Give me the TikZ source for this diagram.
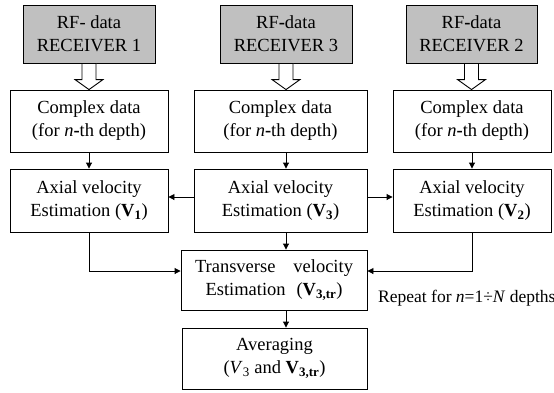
\documentclass[tikz,border=0pt]{standalone}
\usepackage{fontspec}
\setmainfont{Liberation Serif}
\usetikzlibrary{arrows.meta,calc}
\definecolor{boxgray}{RGB}{192,192,192}
\begin{document}
\begin{tikzpicture}[x=1pt,y=-1pt,
  every node/.style={font=\fontsize{18.5}{23}\selectfont},
  box/.style={draw, line width=0.9pt, inner sep=0pt, align=center},
  graybox/.style={box, fill=boxgray},
  arr/.style={line width=0.9pt, -{Triangle[length=6pt,width=6pt]}},
  hollow/.style={draw, line width=0.9pt, fill=white, line join=miter}]
\useasboundingbox (0,0) rectangle (554,392);
% receivers
\node[graybox, minimum width=132pt, minimum height=58pt] (R1) at (89,34) {RF- data\\RECEIVER 1};
\node[graybox, minimum width=132pt, minimum height=58pt] (R3) at (286,34) {RF\textbf{-}data\\RECEIVER 3};
\node[graybox, minimum width=131pt, minimum height=58pt] (R2) at (471.5,34) {RF\textbf{-}data\\RECEIVER 2};
% complex data
\node[box, minimum width=158pt, minimum height=62pt] (C1) at (89,121) {Complex data\\(for \textit{n}\textbf{-}th depth)};
\node[box, minimum width=173pt, minimum height=62pt] (C3) at (280.5,121) {Complex data\\(for \textit{n}\textbf{-}th depth)};
\node[box, minimum width=158pt, minimum height=62pt] (C2) at (472,121) {Complex data\\(for \textit{n}\textbf{-}th depth)};
% axial
\node[box, minimum width=158pt, minimum height=63pt] (A1) at (89,200.5) {Axial velocity\\Estimation (\textbf{V}\textsubscript{\textbf{1}})};
\node[box, minimum width=173pt, minimum height=63pt] (A3) at (280.5,200.5) {Axial velocity\\Estimation (\textbf{V}\textsubscript{\textbf{3}})};
\node[box, minimum width=158pt, minimum height=63pt] (A2) at (472,200.5) {Axial velocity\\Estimation (\textbf{V}\textsubscript{\textbf{2}})};
% transverse and averaging
\node[box, minimum width=186pt, minimum height=60pt] (T) at (274,280) {\makebox[158pt][s]{Transverse velocity}\\\makebox[137pt][s]{Estimation (\textbf{V}\textsubscript{\textbf{3,tr}})}};
\node[box, minimum width=185pt, minimum height=61pt] (Av) at (274.5,358.5) {Averaging\\(\textit{V}\textsubscript{3} and \textbf{V}\textsubscript{\textbf{3,tr}})};
\node[anchor=base west, inner sep=0pt, font=\fontsize{17.5}{21}\selectfont] (rep) at (378,302) {Repeat for \textit{n}=1÷\textit{N} depths};
% hollow arrows
\foreach \r/\c in {R1/C1,R3/C3,R2/C2}{
  \draw[hollow] ([xshift=-7pt]\r.south) -- ([xshift=-7pt,yshift=10pt]\r.south |- \c.north) -- ([xshift=-14pt,yshift=10pt]\r.south |- \c.north) -- (\r.south |- \c.north) -- ([xshift=14pt,yshift=10pt]\r.south |- \c.north) -- ([xshift=7pt,yshift=10pt]\r.south |- \c.north) -- ([xshift=7pt]\r.south) -- cycle;
}
% small arrows
\draw[arr] (C1.south) -- (A1.north);
\draw[arr] (C3.south -| R3.south) -- (A3.north -| R3.south);
\draw[arr] (C2.south) -- (A2.north);
\draw[arr] ([yshift=3.5pt]A3.west) -- ([yshift=3.5pt]A1.east);
\draw[arr] ([yshift=3.5pt]A3.east) -- ([yshift=3.5pt]A2.west);
\draw[arr] (A3.south -| R3.south) -- (T.north -| R3.south);
\draw[arr] (A1.south) |- ([yshift=9pt]T.west);
\draw[arr] (A2.south) |- ([yshift=9pt]T.east);
\draw[arr] (T.south -| R3.south) -- (Av.north -| R3.south);
\end{tikzpicture}
\end{document}
